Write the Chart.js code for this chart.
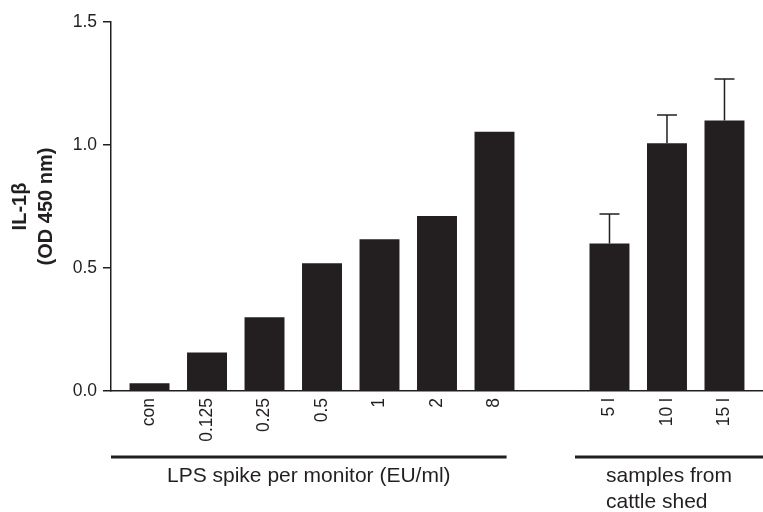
<!DOCTYPE html>
<html>
<head>
<meta charset="utf-8">
<script src="https://cdn.jsdelivr.net/npm/chart.js@4"></script>
<style>
  html, body { margin: 0; padding: 0; background: #fff; }
  #wrap { width: 763px; height: 512px; }
</style>
</head>
<body>
<div id="wrap"><canvas id="chart" width="763" height="512"></canvas></div>
<script>
// IL-1beta response
const labels = ['con', '0.125', '0.25', '0.5', '1', '2', '8', '', '5 l', '10 l', '15 l'];
const values = [0.031, 0.157, 0.30, 0.519, 0.617, 0.711, 1.054, null, 0.60, 1.007, 1.10];
const errors = [null, null, null, null, null, null, null, null, 0.12, 0.115, 0.168];
const yTicks = [0, 0.5, 1.0, 1.5];
const groupNames = [['LPS spike per monitor (EU/ml)'], ['samples from', 'cattle shed']];
const groupFirst = [0, 8];
const groupLast = [6, 10];

const ink = '#231f20';
const fontFamily = "'Liberation Sans', Arial, Helvetica, sans-serif";

// error bars (upper only) + group brackets under the axis
const extras = {
    id: 'extras',
    afterDatasetsDraw(chart) {
        const ctx = chart.ctx;
        const x = chart.scales.x, y = chart.scales.y;
        ctx.save();
        ctx.strokeStyle = ink;
        ctx.lineWidth = 1.5;
        errors.forEach((e, i) => {
            if (e == null || values[i] == null) return;
            const cx = x.getPixelForValue(i);
            const yTop = y.getPixelForValue(values[i] + e);
            const yBar = y.getPixelForValue(values[i]);
            ctx.beginPath();
            ctx.moveTo(cx, yBar);
            ctx.lineTo(cx, yTop);
            ctx.moveTo(cx - 10, yTop);
            ctx.lineTo(cx + 10, yTop);
            ctx.stroke();
        });
        ctx.restore();
    },
    afterDraw(chart) {
        const ctx = chart.ctx;
        const x = chart.scales.x;
        const area = chart.chartArea;
        ctx.save();
        ctx.strokeStyle = ink;
        ctx.fillStyle = ink;
        ctx.lineWidth = 3;
        ctx.font = '21px ' + fontFamily;
        ctx.textBaseline = 'alphabetic';
        groupNames.forEach((lines, g) => {
            const x0 = groupFirst[g] === 0 ? area.left : x.getPixelForValue(groupFirst[g] - 0.6);
            const x1 = groupLast[g] === labels.length - 1 ? area.right : x.getPixelForValue(groupLast[g] + 0.21);
            const ly = area.bottom + 66;
            ctx.beginPath();
            ctx.moveTo(x0, ly);
            ctx.lineTo(x1, ly);
            ctx.stroke();
            const mid = (x0 + x1) / 2;
            const start = mid - ctx.measureText(lines[0]).width / 2;
            ctx.textAlign = 'left';
            lines.forEach((t, k) => ctx.fillText(t, start, ly + 25 + k * 26));
        });
        ctx.restore();
    }
};

new Chart(document.getElementById('chart'), {
    type: 'bar',
    data: {
        datasets: [{
            data: values.map((v, i) => ({ x: i, y: v })).filter(p => p.y != null),
            backgroundColor: ink,
            borderWidth: 0,
            categoryPercentage: 1,
            barPercentage: 0.695
        }]
    },
    options: {
        responsive: false,
        animation: false,
        layout: { padding: { top: 22, right: 0, bottom: 0, left: 0 } },
        plugins: { legend: { display: false }, tooltip: { enabled: false } },
        scales: {
            x: {
                type: 'linear',
                offset: false,
                min: -0.67,
                max: 10.67,
                afterBuildTicks: s => {
                    s.ticks = labels.map((l, i) => ({ value: i })).filter(t => labels[t.value]);
                },
                afterFit: s => { s.height = 121; s.paddingLeft = 0; s.paddingRight = 0; },
                grid: { display: false, drawTicks: false },
                border: { display: true, color: ink, width: 1.5 },
                ticks: {
                    autoSkip: false,
                    minRotation: 90,
                    maxRotation: 90,
                    padding: 7,
                    color: ink,
                    font: { family: fontFamily, size: 17.5 },
                    callback: v => labels[v]
                }
            },
            y: {
                min: 0,
                max: 1.5,
                afterBuildTicks: s => { s.ticks = yTicks.map(v => ({ value: v })); },
                afterFit: s => { s.width = 111; },
                grid: { drawOnChartArea: false, drawTicks: true, tickLength: 8, color: ink, lineWidth: 1.5 },
                border: { display: true, color: ink, width: 1.5 },
                ticks: {
                    padding: 6,
                    color: ink,
                    font: { family: fontFamily, size: 17.5 },
                    callback: v => v.toFixed(1)
                },
                title: {
                    display: true,
                    text: ['IL-1β', '(OD 450 nm)'],
                    color: ink,
                    font: { family: fontFamily, size: 20, weight: 'bold', lineHeight: 1.3 },
                    padding: { top: 7, bottom: 0 }
                }
            }
        }
    },
    plugins: [extras]
});
</script>
</body>
</html>
